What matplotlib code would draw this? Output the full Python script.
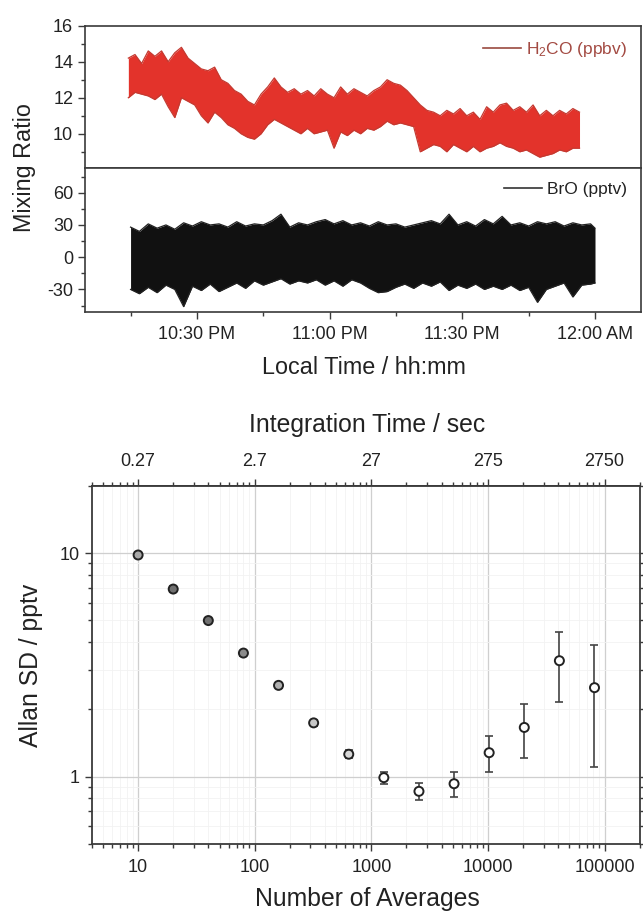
import datetime as dt
import numpy as np
import matplotlib
matplotlib.use("Agg")
import matplotlib.pyplot as plt
import matplotlib.dates as mdates
from matplotlib.lines import Line2D
from matplotlib.ticker import (LogLocator, NullFormatter, FixedLocator,
                               MultipleLocator)

plt.rcParams['font.family'] = ['Liberation Sans', 'DejaVu Sans']
plt.rcParams['mathtext.default'] = 'regular'
plt.rcParams['axes.unicode_minus'] = False

# ---------------- data ----------------
# H2CO envelope (minutes after 22:00, upper / lower extent in ppbv)
h2co_min = [14.5, 16, 17.5, 19, 20.5, 22, 23.5, 25, 26.5, 28, 29.5, 31, 32.5, 34,
            35.5, 37, 38.5, 40, 41.5, 43, 44.5, 46, 47.5, 49, 50.5, 52, 53.5, 55,
            56.5, 58, 59.5, 61, 62.5, 64, 65.5, 67, 68.5, 70, 71.5, 73, 74.5, 76,
            77.5, 79, 80.5, 82, 83.5, 85, 86.5, 88, 89.5, 91, 92.5, 94, 95.5, 97,
            98.5, 100, 101.5, 103, 104.5, 106, 107.5, 109, 110.5, 112, 113.5, 115,
            116.5]
h2co_hi = [14.2, 14.4, 13.9, 14.6, 14.3, 14.6, 14.0, 14.5, 14.8, 14.2, 13.9, 13.6,
           13.5, 13.7, 13.0, 12.8, 12.4, 12.2, 11.8, 11.6, 12.2, 12.6, 13.1, 12.6,
           12.3, 12.5, 12.2, 12.4, 12.1, 12.5, 12.2, 12.0, 12.6, 12.2, 12.5, 12.3,
           12.1, 12.4, 12.6, 13.0, 12.8, 12.7, 12.4, 12.0, 11.6, 11.3, 11.2, 11.0,
           11.3, 11.1, 11.4, 11.0, 11.2, 10.8, 11.5, 11.2, 11.6, 11.7, 11.3, 11.5,
           11.2, 11.6, 11.0, 11.3, 11.0, 11.3, 11.1, 11.4, 11.2]
h2co_lo = [12.0, 12.3, 12.2, 12.1, 11.9, 12.2, 11.5, 10.9, 12.0, 11.8, 11.6, 11.0,
           10.6, 11.2, 10.9, 10.5, 10.3, 10.0, 9.8, 9.7, 10.0, 10.5, 10.8, 10.6,
           10.4, 10.2, 10.0, 10.3, 10.0, 10.1, 10.2, 9.2, 10.1, 9.9, 10.2, 10.0,
           10.3, 10.2, 10.4, 10.7, 10.5, 10.6, 10.5, 10.4, 9.0, 9.2, 9.4, 9.3,
           9.0, 9.4, 9.2, 9.0, 9.3, 9.0, 9.2, 9.3, 9.5, 9.3, 9.2, 9.0, 9.1, 8.9,
           8.7, 8.8, 8.9, 9.1, 9.0, 9.2, 9.2]

# BrO envelope (minutes after 22:00, upper / lower extent in pptv)
bro_min = [15, 17, 19, 21, 23, 25, 27, 29, 31, 33, 35, 37, 39, 41, 43, 45, 47, 49,
           51, 53, 55, 57, 59, 61, 63, 65, 67, 69, 71, 73, 75, 77, 79, 81, 83, 85,
           87, 89, 91, 93, 95, 97, 99, 101, 103, 105, 107, 109, 111, 113, 115, 117,
           119, 120]
bro_hi = [28, 24, 31, 27, 30, 26, 32, 29, 33, 30, 31, 28, 33, 29, 31, 30, 34, 40,
          28, 32, 30, 33, 35, 31, 34, 30, 32, 29, 33, 30, 31, 28, 30, 32, 34, 31,
          40, 30, 33, 29, 35, 31, 38, 30, 32, 29, 33, 31, 33, 29, 32, 30, 31, 27]
bro_lo = [-30, -34, -28, -33, -26, -30, -46, -27, -31, -25, -32, -28, -24, -29,
          -22, -26, -23, -20, -25, -22, -24, -21, -26, -22, -27, -21, -24, -29,
          -33, -32, -28, -25, -29, -24, -27, -23, -31, -26, -29, -25, -30, -27,
          -30, -26, -31, -28, -42, -30, -27, -24, -37, -26, -25, -24]

# Allan deviation
n_avg = [10, 20, 40, 80, 160, 320, 640, 1280, 2560, 5120, 10240, 20480, 40960, 81920]
allan_sd = [9.8, 6.9, 4.99, 3.57, 2.56, 1.74, 1.26, 0.99, 0.86, 0.93, 1.28, 1.66,
            3.30, 2.50]
allan_top = [10.1, 7.1, 5.12, 3.66, 2.63, 1.79, 1.31, 1.05, 0.935, 1.05, 1.52, 2.11,
             4.43, 3.87]
allan_bot = [9.5, 6.7, 4.86, 3.48, 2.49, 1.69, 1.21, 0.93, 0.79, 0.81, 1.045, 1.21,
             2.16, 1.10]
avg_ticks = [10, 100, 1000, 10000, 100000]
avg_tick_labels = ['10', '100', '1000', '10000', '100000']
int_time_labels = ['0.27', '2.7', '27', '275', '2750']

# ---------------- styling ----------------
W, H = 643, 913
fig = plt.figure(figsize=(W / 100, H / 100), dpi=100)
spine_c = '#3a3a3a'
text_c = '#222222'
tick_fs = 13
lab_top = 16.8
lab_bot = 17.8

base = dt.datetime(2000, 1, 1, 22, 0)
def to_num(mins):
    return mdates.date2num([base + dt.timedelta(minutes=float(m)) for m in mins])

def fax(l, t, r, b):
    return fig.add_axes([l / W, 1 - b / H, (r - l) / W, (b - t) / H])

ax1 = fax(85, 25.7, 641, 168)
ax2 = fax(85, 168, 641, 312)

xlim = to_num([4.7, 130.4])

for ax in (ax1, ax2):
    for s in ax.spines.values():
        s.set_color(spine_c)
        s.set_linewidth(1.2)
    ax.set_xlim(xlim)
    ax.tick_params(which='both', direction='out', colors=spine_c, labelcolor=text_c,
                   labelsize=tick_fs, width=1.0)
    ax.tick_params(which='major', length=5)
    ax.tick_params(which='minor', length=3)

# H2CO
t1 = to_num(h2co_min)
red = '#e3332b'
ax1.fill_between(t1, h2co_lo, h2co_hi, color=red, lw=0)
ax1.plot(t1, h2co_hi, color='#c43a31', lw=0.9)
ax1.plot(t1, h2co_lo, color='#c43a31', lw=0.9)
ax1.set_ylim(8.1, 16)
ax1.yaxis.set_major_locator(FixedLocator([10, 12, 14, 16]))
ax1.yaxis.set_minor_locator(MultipleLocator(1))
ax1.xaxis.set_major_locator(mdates.MinuteLocator(byminute=[0, 15, 30, 45]))
ax1.xaxis.set_minor_locator(FixedLocator(to_num([7.5 + 15 * k for k in range(9)])))
ax1.tick_params(axis='x', labelbottom=False)

ax1.legend(handles=[Line2D([], [], color='#9a4a40', lw=1.2)],
           labels=['H$_2$CO (ppbv)'], loc='upper right', frameon=False,
           fontsize=12.5, handlelength=2.2, handletextpad=0.3,
           borderaxespad=0.4, labelcolor='#a34a42')

# BrO
t2 = to_num(bro_min)
ax2.fill_between(t2, bro_lo, bro_hi, color='#111111', lw=0)
ax2.plot(t2, bro_hi, color='#222222', lw=0.9)
ax2.plot(t2, bro_lo, color='#222222', lw=0.9)
ax2.set_ylim(-51, 83)
ax2.yaxis.set_major_locator(FixedLocator([-30, 0, 30, 60]))
ax2.yaxis.set_minor_locator(MultipleLocator(15))
ax2.xaxis.set_major_locator(mdates.MinuteLocator(byminute=[0, 30]))
ax2.xaxis.set_minor_locator(mdates.MinuteLocator(byminute=[15, 45]))
ax2.xaxis.set_major_formatter(mdates.DateFormatter('%I:%M %p'))
ax2.tick_params(axis='x', pad=5)
ax2.legend(handles=[Line2D([], [], color='#333333', lw=1.2)],
           labels=['BrO (pptv)'], loc='upper right', frameon=False,
           fontsize=12.5, handlelength=2.2, handletextpad=0.3,
           borderaxespad=0.4, labelcolor='#222222')

fig.text(25 / W, 1 - 168 / H, 'Mixing Ratio', rotation=90, ha='center', va='center',
         fontsize=lab_top, color=text_c)
fig.text(364 / W, 1 - 367 / H, 'Local Time / hh:mm', ha='center', va='center',
         fontsize=lab_top, color=text_c)

# ---------------- Allan plot ----------------
ax3 = fax(91.7, 485.7, 639.7, 844)
for s in ax3.spines.values():
    s.set_color(spine_c)
    s.set_linewidth(1.3)
ax3.set_xscale('log')
ax3.set_yscale('log')
ax3.set_xlim(4, 200000)
ax3.set_ylim(0.5, 20)
ax3.grid(True, which='major', color='#cfcfcf', lw=0.9, zorder=0)
ax3.grid(True, which='minor', color='#f2f2f2', lw=0.6, zorder=0)
ax3.set_axisbelow(True)

sd = np.array(allan_sd)
yerr = np.vstack([sd - np.array(allan_bot), np.array(allan_top) - sd])
ax3.errorbar(n_avg, sd, yerr=yerr, fmt='none', ecolor='#444444', elinewidth=1.2,
             capsize=3, capthick=1.2, zorder=2)
faces = ['#a8a8a8', '#707070', '#707070', '#8a8a8a', '#b0b0b0', '#c8c8c8',
         '#d8d8d8'] + ['white'] * 7
ax3.scatter(n_avg, sd, s=6.5 ** 2, facecolors=faces, edgecolors='#222222',
            linewidths=1.4, zorder=3)

ax3.xaxis.set_major_locator(FixedLocator(avg_ticks))
ax3.set_xticklabels(avg_tick_labels)
ax3.xaxis.set_minor_locator(LogLocator(base=10, subs=np.arange(2, 10), numticks=20))
ax3.xaxis.set_minor_formatter(NullFormatter())
ax3.yaxis.set_major_locator(FixedLocator([1, 10]))
ax3.set_yticklabels(['1', '10'])
ax3.yaxis.set_minor_locator(LogLocator(base=10, subs=np.arange(2, 10), numticks=20))
ax3.yaxis.set_minor_formatter(NullFormatter())
ax3.tick_params(which='both', direction='out', colors=spine_c, labelcolor=text_c,
                labelsize=tick_fs, right=True, labelright=False, width=1.0)
ax3.tick_params(which='major', length=5)
ax3.tick_params(which='minor', length=3)
ax3.tick_params(axis='x', pad=6)

sec = ax3.secondary_xaxis('top')
sec.set_xticks(avg_ticks, labels=int_time_labels)
sec.xaxis.set_minor_locator(LogLocator(base=10, subs=np.arange(2, 10), numticks=20))
sec.xaxis.set_minor_formatter(NullFormatter())
sec.tick_params(which='both', direction='out', colors=spine_c, labelcolor=text_c,
                labelsize=tick_fs, width=1.0)
sec.tick_params(which='major', length=5)
sec.tick_params(which='minor', length=3)
sec.tick_params(axis='x', pad=6)
sec.spines['top'].set_color(spine_c)
sec.spines['top'].set_linewidth(1.3)

fig.text(367 / W, 1 - 425 / H, 'Integration Time / sec', ha='center', va='center',
         fontsize=lab_bot, color=text_c)
fig.text(367 / W, 1 - 899 / H, 'Number of Averages', ha='center', va='center',
         fontsize=lab_bot, color=text_c)
fig.text(31 / W, 1 - 665 / H, 'Allan SD / pptv', rotation=90, ha='center',
         va='center', fontsize=lab_bot, color=text_c)

fig.savefig('out.png', dpi=100)
